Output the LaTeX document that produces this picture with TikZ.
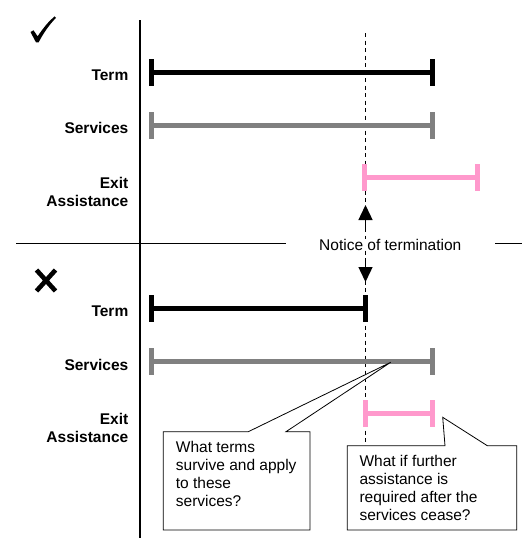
\documentclass[tikz,border=0pt]{standalone}
\usepackage{fontspec}
\setmainfont{Liberation Sans}
\usetikzlibrary{arrows.meta}
\definecolor{barpink}{RGB}{255,153,204}
\definecolor{bargray}{RGB}{128,128,128}
\tikzset{
  rowlabel/.style={anchor=base east,inner sep=0pt,align=right,font=\fontsize{15.5}{17.7}\selectfont\bfseries},
  barline/.style={line width=5pt},
  divider/.style={line width=1.2pt},
  noticearrow/.style={line width=1.4pt,-{Triangle[width=14pt,length=15pt]}},
  calloutbox/.style={draw,line width=0.8pt,fill=white,line join=miter},
  callouttext/.style={anchor=north west,inner sep=0pt,align=left,font=\fontsize{15.5}{18}\selectfont},
}
\begin{document}
\begin{tikzpicture}[x=1pt,y=-1pt]
\useasboundingbox (0,0) rectangle (522,538);
% dividers
\draw[divider] (140,20) -- (140,538);
\draw[divider] (16,243.3) -- (286,243.3);
\draw[divider] (495,243.3) -- (522,243.3);
% marks
\fill (30.5,32) -- (33.5,30.3) -- (37.6,36.3) .. controls (44,27) and (49,21) .. (54.6,16.4) -- (56,17.8) .. controls (50,24) and (44,32) .. (38.6,42.4) -- (36,42.4) -- cycle;
\draw[line width=4.6pt] (36.5,270) -- (55.5,291) (55.5,270) -- (36.5,291);
% labels
\node[rowlabel] (lterm1) at (128.5,80) {Term};
\node[rowlabel] (lserv1) at (128.5,133.3) {Services};
\node[rowlabel] (lexit1) at (128.5,206) {Exit\\Assistance};
\node[rowlabel] (lterm2) at (128.5,316.7) {Term};
\node[rowlabel] (lserv2) at (128.5,370) {Services};
\node[rowlabel] (lexit2) at (128.5,442.5) {Exit\\Assistance};
% dashed notice line
\coordinate (dtop) at (365.5,33);
\coordinate (dbot) at (365.5,445.7);
\draw[line width=0.9pt,dash pattern=on 4pt off 3.5pt] (dtop) -- (dbot);
% top bars
\draw[barline] (151.5,59) -- (151.5,86) (151.5,72.5) -- (432.5,72.5) (432.5,59) -- (432.5,86);
\draw[barline,bargray] (151.5,112) -- (151.5,138.5) (151.5,125) -- (432.5,125) (432.5,112) -- (432.5,138.5);
\draw[barline,barpink] (364.5,164) -- (364.5,191) (364.5,177) -- (477.5,177) (477.5,164) -- (477.5,191);
% bottom bars
\draw[barline] (151.5,295) -- (151.5,322) (151.5,308.5) -- (365,308.5) (365,295) -- (365,322);
\draw[barline,bargray] (151.5,348) -- (151.5,374.5) (151.5,361) -- (432.5,361) (432.5,348) -- (432.5,374.5);
\draw[barline,barpink] (365,400) -- (365,427) (365,413.5) -- (432.5,413.5) (432.5,400) -- (432.5,427);
% notice
\node[inner sep=0pt,anchor=base,font=\fontsize{15.5}{18}\selectfont,fill=white] (notice) at (390.3,250) {Notice of termination};
\coordinate (upstart) at (365.5,229);
\coordinate (uptip) at (365.5,205);
\coordinate (dnstart) at (365.5,260);
\coordinate (dntip) at (365.5,282);
\draw[noticearrow] (upstart) -- (uptip);
\draw[noticearrow] (dnstart) -- (dntip);
% callout 1
\coordinate (tip1) at (390.7,362.3);
\draw[calloutbox] (163.3,431.7) -- (248.3,431.7) -- (tip1) -- (286,431.7) -- (310,431.7) -- (310,530) -- (163.3,530) -- cycle;
\node[callouttext] (c1) at (175.7,441) {What terms\\survive and apply\\to these\\services?};
% callout 2
\coordinate (tip2) at (442.7,417.3);
\draw[calloutbox] (347.3,445.7) -- (445,445.7) -- (tip2) -- (487.3,445.7) -- (516.7,445.7) -- (516.7,530) -- (347.3,530) -- cycle;
\node[callouttext] (c2) at (359.3,455.5) {What if further\\assistance is\\required after the\\services cease?};
\end{tikzpicture}
\end{document}
